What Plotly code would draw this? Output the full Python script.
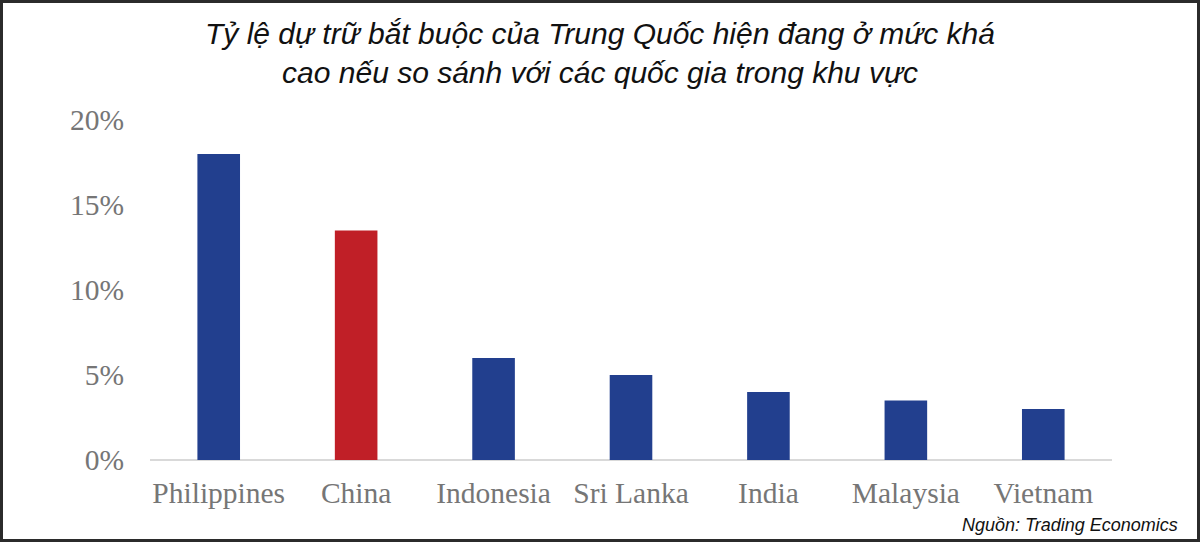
import plotly.graph_objects as go

countries = ["Philippines", "China", "Indonesia", "Sri Lanka", "India", "Malaysia", "Vietnam"]
rates = [18.0, 13.5, 6.0, 5.0, 4.0, 3.5, 3.0]
bar_colors = ["#223F8E", "#C01F27", "#223F8E", "#223F8E", "#223F8E", "#223F8E", "#223F8E"]
tick_vals = [0, 5, 10, 15, 20]
tick_text = ["0%", "5%", "10%", "15%", "20%"]

W, H = 1200, 542
ml, mr, mt, mb = 150, 88, 120, 82
pw, ph = W - ml - mr, H - mt - mb

fig = go.Figure(go.Bar(
    x=countries, y=rates, marker=dict(color=bar_colors, line=dict(width=0)),
    width=0.31,
))

fig.update_layout(
    width=W, height=H,
    margin=dict(l=ml, r=mr, t=mt, b=mb),
    paper_bgcolor="white", plot_bgcolor="white",
    showlegend=False,
    title=dict(
        text="Tỷ lệ dự trữ bắt buộc của Trung Quốc hiện đang ở mức khá<br>cao nếu so sánh với các quốc gia trong khu vực",
        x=0.5, xanchor="center", y=1 - 44 / H, yanchor="middle",
        font=dict(family="Liberation Sans Narrow, Arial Narrow, Liberation Sans, Arial", size=30, color="#111111",
                  style="italic"),
    ),
    xaxis=dict(
        showgrid=False, showline=False, zeroline=False, ticks="",
        tickfont=dict(family="Liberation Serif, Times New Roman, serif", size=29.5, color="#767676"),
        ticklabelstandoff=12,
    ),
    yaxis=dict(
        range=[0, 20], tickvals=tick_vals, ticktext=tick_text,
        showgrid=False, showline=False, zeroline=True, zerolinecolor="#D9D9D9", zerolinewidth=2,
        ticks="",
        tickfont=dict(family="Liberation Serif, Times New Roman, serif", size=29.5, color="#767676"),
        ticklabelstandoff=25,
    ),
    shapes=[dict(
        type="rect", xref="paper", yref="paper",
        x0=(-ml + 1.5) / pw, x1=1 + (mr - 1.5) / pw,
        y0=(-mb + 1.5) / ph, y1=1 + (mt - 1.5) / ph,
        line=dict(color="#2b2b2b", width=3), fillcolor="rgba(0,0,0,0)",
    )],
    annotations=[dict(
        text="Nguồn: Trading Economics", xref="paper", yref="paper",
        x=1 + (mr - 20) / pw, y=-(mb - 17) / ph, xanchor="right", yanchor="middle",
        showarrow=False,
        font=dict(family="Liberation Sans Narrow, Arial Narrow, Liberation Sans, Arial", size=18, color="#111111",
                  style="italic"),
    )],
)

fig.write_html(
    "out.html",
    config={"displayModeBar": False},
    post_script="document.body.style.margin='0';document.body.style.overflow='hidden';",
)
